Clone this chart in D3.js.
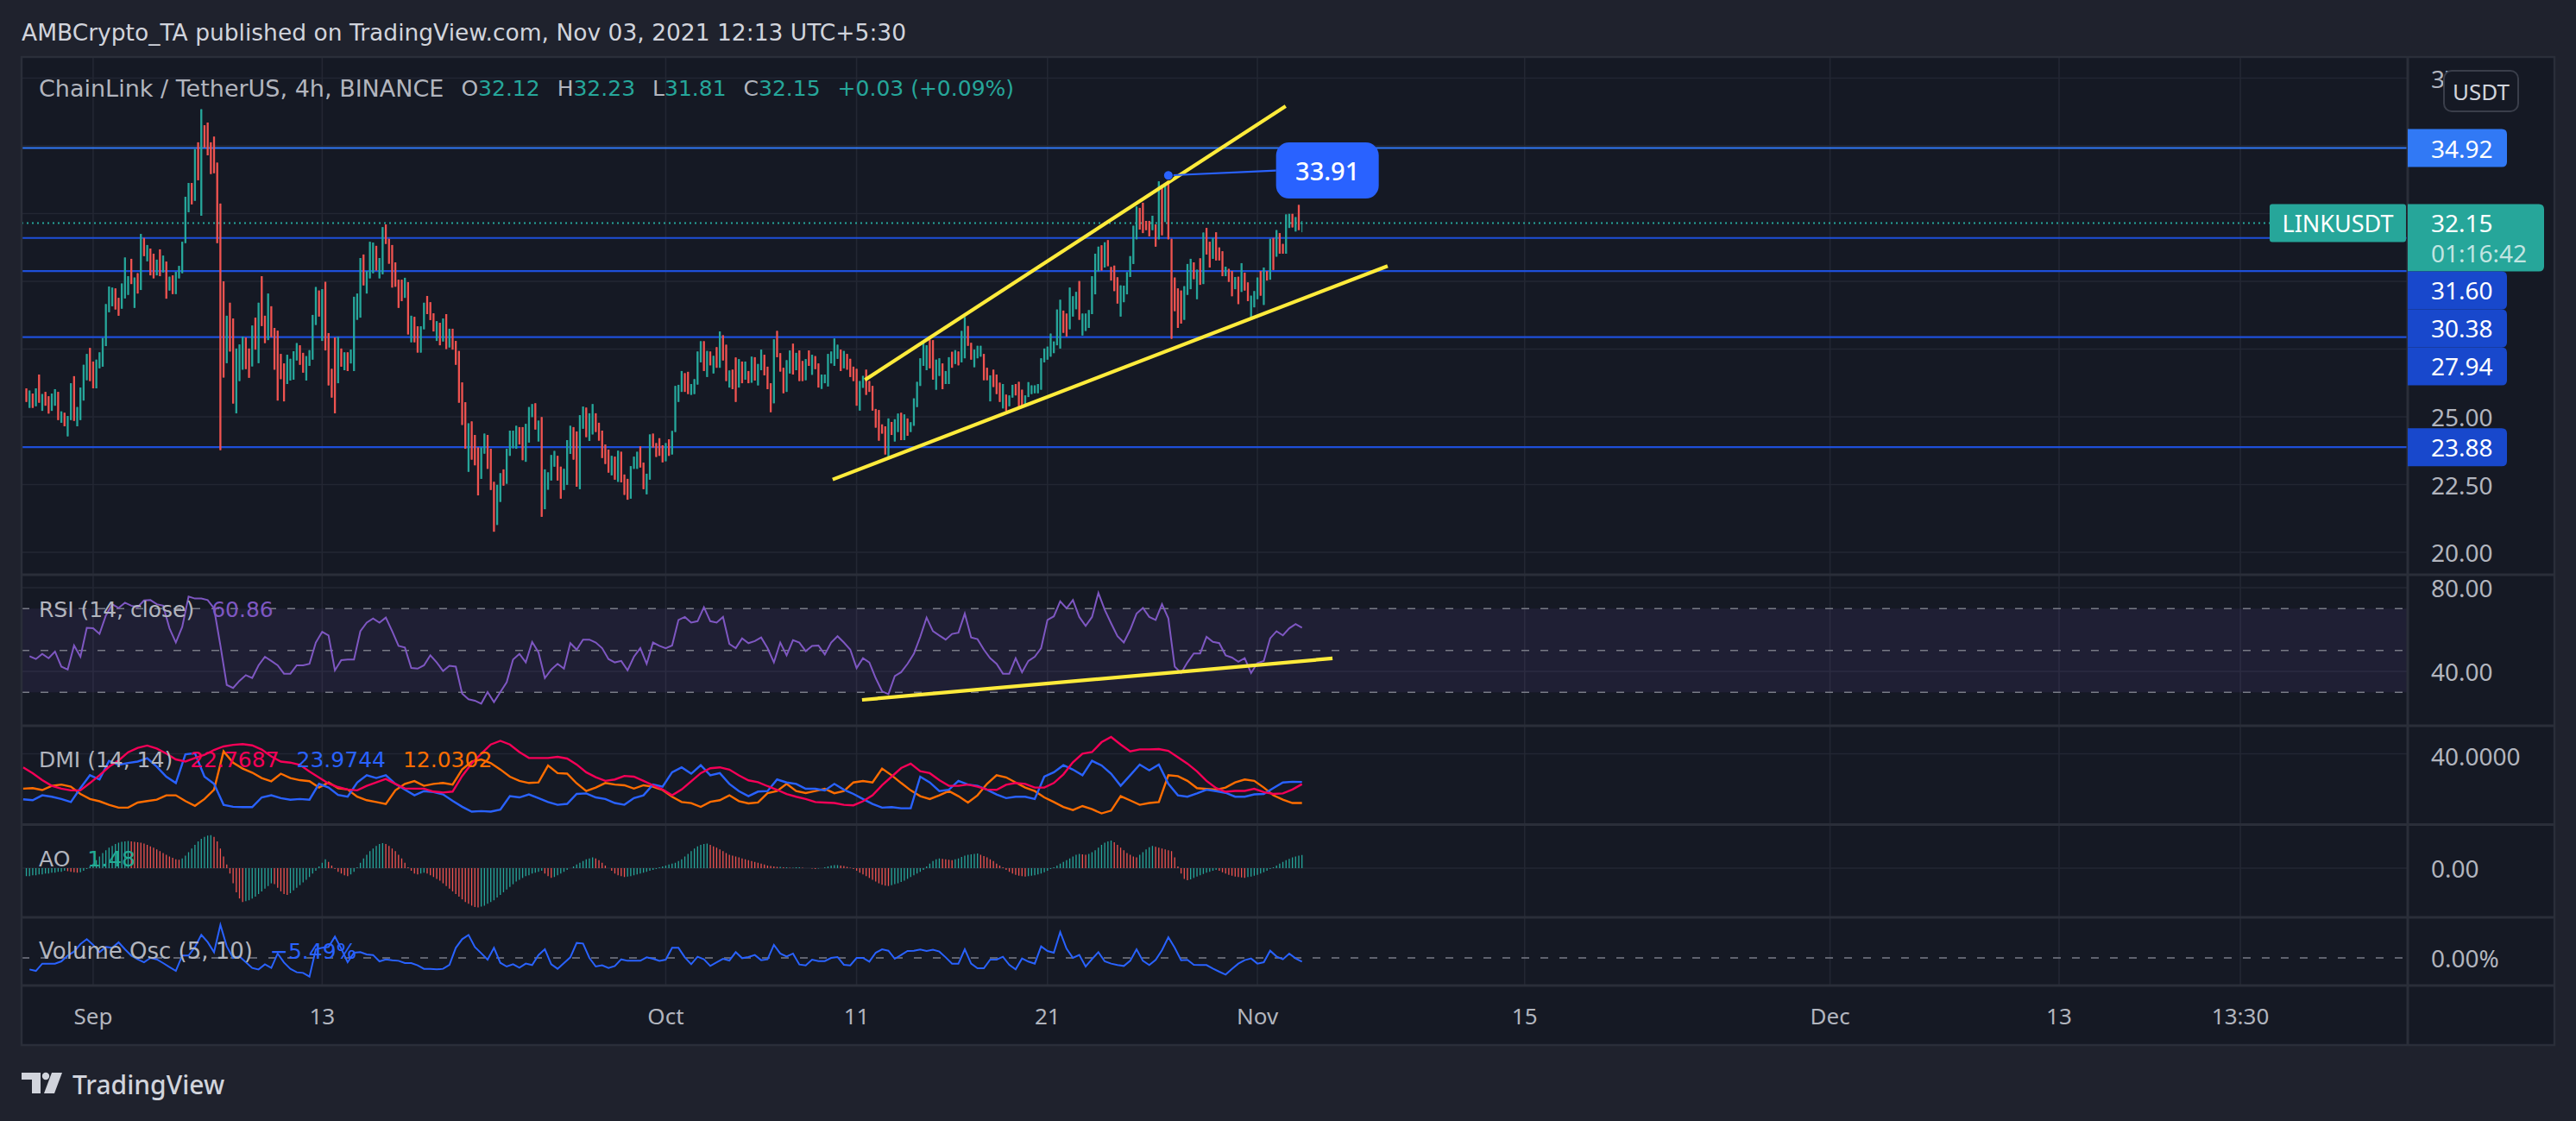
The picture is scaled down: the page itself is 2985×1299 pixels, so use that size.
<!DOCTYPE html>
<html><head><meta charset="utf-8">
<script src="https://cdn.jsdelivr.net/npm/d3@7"></script>
<style>html,body{margin:0;padding:0;background:#1f222d;}svg{display:block;}</style>
</head><body>
<svg id="chart" width="2985" height="1299"></svg>
<script>
// ---------------- DATA ----------------
// bar index 0 = Sep 1 01:30 (4h bars, UTC+5:30); first candle is bar -21
const firstBar = -21;
const candles = [
[26.05,26.05,25.55,25.55],[25.33,25.97,25.33,25.97],[25.86,25.86,25.33,25.33],[25.39,26.05,25.39,26.05],[26.56,26.56,25.52,25.52],
[25.22,25.84,25.22,25.84],[25.92,25.92,25.41,25.41],[25.76,25.76,25.12,25.12],[25.22,25.86,25.22,25.86],[25.41,26.02,25.41,26.02],
[25.92,25.92,24.88,24.88],[24.78,25.20,24.78,25.20],[25.15,25.15,24.65,24.65],[24.28,25.03,24.28,25.03],[24.88,26.24,24.88,26.24],
[26.50,26.50,24.85,24.85],[24.65,25.36,24.65,25.36],[24.88,26.08,24.88,26.08],[25.60,26.92,25.60,26.92],[26.35,27.32,26.35,27.32],
[27.54,27.54,26.32,26.32],[27.04,27.04,26.05,26.05],[26.05,27.11,26.05,27.11],[26.79,27.38,26.79,27.38],[26.85,27.91,26.85,27.91],
[27.61,29.16,27.61,29.16],[28.86,29.81,28.86,29.81],[29.08,29.77,29.08,29.77],[29.74,29.74,28.96,28.96],[29.39,29.39,28.73,28.73],
[28.99,29.92,28.99,29.92],[29.37,30.88,29.37,30.88],[29.50,30.19,29.50,30.19],[30.83,30.83,29.90,29.90],[29.02,30.14,29.02,30.14],
[30.30,30.30,29.55,29.55],[29.68,31.75,29.68,31.75],[31.60,31.60,30.93,30.93],[30.74,31.34,30.74,31.34],[31.21,31.21,30.22,30.22],
[31.02,31.02,30.11,30.11],[30.22,30.80,30.22,30.80],[31.18,31.18,30.19,30.19],[30.33,30.95,30.33,30.95],[30.73,30.73,29.36,29.36],
[29.66,30.17,29.66,30.17],[30.22,30.22,29.53,29.53],[29.53,30.35,29.53,30.35],[30.11,30.57,30.11,30.57],[30.30,31.46,30.30,31.46],
[31.41,33.12,31.41,33.12],[32.55,33.63,32.55,33.63],[33.63,33.63,32.84,32.84],[32.97,34.88,32.97,34.88],[35.13,35.13,33.73,33.73],
[32.42,36.35,32.42,36.35],[35.76,35.76,34.94,34.94],[35.86,35.86,34.65,34.65],[35.13,35.13,33.96,33.96],[35.34,35.34,33.99,33.99],
[34.38,34.38,31.41,31.41],[32.87,32.87,23.77,23.77],[30.00,30.00,26.45,26.45],[26.98,28.73,26.98,28.73],[29.21,29.21,27.41,27.41],
[28.63,28.63,25.49,25.49],[25.13,27.52,25.13,27.52],[26.32,27.67,26.32,27.67],[26.74,27.96,26.74,27.96],[27.93,27.93,26.76,26.76],
[27.52,27.52,26.44,26.44],[26.86,28.37,26.86,28.37],[28.66,28.66,27.48,27.48],[26.98,29.21,26.98,29.21],[30.19,30.19,28.35,28.35],
[28.73,28.73,27.72,27.72],[27.83,29.55,27.83,29.55],[29.08,29.08,27.94,27.94],[28.28,28.28,26.74,26.74],[28.18,28.18,25.60,25.60],
[27.32,27.32,26.39,26.39],[26.97,26.97,25.57,25.57],[26.21,27.29,26.21,27.29],[26.34,27.14,26.34,27.14],[26.37,27.42,26.37,27.42],
[27.08,27.72,27.08,27.72],[27.64,27.64,26.92,26.92],[27.36,27.36,26.63,26.63],[26.34,27.24,26.34,27.24],[26.88,27.46,26.88,27.46],
[27.11,28.76,27.11,28.76],[28.39,29.79,28.39,29.79],[29.66,29.66,28.70,28.70],[27.80,29.71,27.80,29.71],[29.98,29.98,27.45,27.45],
[28.09,28.09,26.16,26.16],[26.77,26.77,25.71,25.71],[27.93,27.93,25.13,25.13],[26.24,27.95,26.24,27.95],[27.52,27.52,26.85,26.85],
[26.72,27.38,26.72,27.38],[27.38,27.38,26.69,26.69],[26.97,27.48,26.97,27.48],[26.69,29.43,26.69,29.43],[28.58,29.55,28.58,29.55],
[28.66,30.86,28.66,30.86],[30.99,30.99,29.85,29.85],[29.55,30.38,29.55,30.38],[30.11,31.46,30.11,31.46],[30.30,31.43,30.30,31.43],
[31.31,31.31,30.40,30.40],[30.11,30.86,30.11,30.86],[30.26,32.00,30.26,32.00],[32.10,32.10,31.38,31.38],[31.57,31.57,30.65,30.65],
[31.34,31.34,29.77,29.77],[30.70,30.70,29.80,29.80],[30.06,30.06,29.02,29.02],[30.06,30.06,29.27,29.27],[29.39,30.13,29.39,30.13],
[29.97,29.97,28.04,28.04],[27.75,28.73,27.75,28.73],[28.69,28.69,27.75,27.75],[28.34,28.34,27.37,27.37],[27.37,28.34,27.37,28.34],
[28.23,29.21,28.23,29.21],[29.46,29.46,28.79,28.79],[29.23,29.23,28.57,28.57],[28.82,28.82,28.15,28.15],[27.80,28.53,27.80,28.53],
[28.47,28.47,27.64,27.64],[27.78,28.63,27.78,28.63],[28.79,28.79,27.50,27.50],[27.56,28.25,27.56,28.25],[28.25,28.25,27.48,27.48],
[27.80,27.80,26.92,26.92],[27.43,27.43,25.52,25.52],[26.27,26.27,24.70,24.70],[25.54,25.54,23.82,23.82],[22.97,24.76,22.97,24.76],
[24.83,24.83,23.42,23.42],[24.33,24.33,23.21,23.21],[23.87,23.87,22.10,22.10],[22.71,23.87,22.71,23.87],[23.64,24.38,23.64,24.38],
[24.33,24.33,23.08,23.08],[23.82,23.82,22.30,22.30],[22.60,22.60,20.76,20.76],[21.01,22.49,21.01,22.49],[21.86,22.92,21.86,22.92],
[23.06,23.06,22.46,22.46],[22.53,23.82,22.53,23.82],[23.56,24.49,23.56,24.49],[23.84,24.49,23.84,24.49],[23.82,24.67,23.82,24.67],
[24.62,24.62,23.98,23.98],[24.62,24.62,23.40,23.40],[23.34,24.74,23.34,24.74],[24.05,25.36,24.05,25.36],[24.99,25.47,24.99,25.47],
[25.50,25.50,24.53,24.53],[24.09,24.86,24.09,24.86],[24.99,24.99,21.31,21.31],[21.59,23.06,21.59,23.06],[22.31,22.95,22.31,22.95],
[22.65,23.59,22.65,23.59],[23.16,23.74,23.16,23.74],[23.56,23.56,22.65,22.65],[23.16,23.16,21.98,21.98],[22.30,23.08,22.30,23.08],
[22.49,24.14,22.49,24.14],[23.63,24.67,23.63,24.67],[24.62,24.62,23.42,23.42],[24.46,24.46,22.42,22.42],[22.33,25.06,22.33,25.06],
[24.56,25.38,24.56,25.38],[25.34,25.34,24.25,24.25],[24.11,25.13,24.11,25.13],[24.35,25.47,24.35,25.47],[25.13,25.13,24.44,24.44],
[24.78,24.78,24.12,24.12],[24.49,24.49,23.48,23.48],[23.98,23.98,23.26,23.26],[23.79,23.79,22.94,22.94],[22.84,23.56,22.84,23.56],
[23.53,23.53,22.68,22.68],[22.60,23.75,22.60,23.75],[23.71,23.71,22.58,22.58],[22.87,22.87,22.12,22.12],[22.71,22.71,21.94,21.94],
[21.98,23.18,21.98,23.18],[23.08,23.53,23.08,23.53],[23.08,23.71,23.08,23.71],[23.91,23.91,23.13,23.13],[23.31,23.31,22.33,22.33],
[22.14,22.90,22.14,22.90],[22.68,24.35,22.68,24.35],[24.38,24.38,23.87,23.87],[24.03,24.03,23.52,23.52],[24.21,24.21,23.56,23.56],
[23.95,23.95,23.32,23.32],[23.36,24.03,23.36,24.03],[24.17,24.17,23.56,23.56],[23.61,24.48,23.61,24.48],[24.44,26.14,24.44,26.14],
[25.55,26.18,25.55,26.18],[25.92,26.69,25.92,26.69],[26.61,26.61,25.92,25.92],[26.66,26.66,25.84,25.84],[25.81,26.21,25.81,26.21],
[25.84,26.39,25.84,26.39],[26.19,27.41,26.19,27.41],[27.01,27.79,27.01,27.79],[27.79,27.79,26.69,26.69],[26.47,27.43,26.47,27.43],
[27.41,27.41,26.90,26.90],[26.60,27.25,26.60,27.25],[27.57,27.57,26.81,26.81],[26.81,28.15,26.81,28.15],[28.01,28.01,27.08,27.08],
[27.66,27.66,26.32,26.32],[26.08,26.71,26.08,26.71],[26.74,26.74,26.02,26.02],[27.19,27.19,25.55,25.55],[26.08,27.13,26.08,27.13],
[27.04,27.04,26.24,26.24],[26.37,27.04,26.37,27.04],[26.69,26.69,26.24,26.24],[26.26,27.22,26.26,27.22],[27.20,27.20,26.34,26.34],
[26.16,26.95,26.16,26.95],[26.72,27.48,26.72,27.48],[27.29,27.29,26.53,26.53],[26.85,26.85,26.02,26.02],[26.24,26.24,25.17,25.17],
[25.50,27.86,25.50,27.86],[28.17,28.17,27.20,27.20],[27.35,27.35,26.67,26.67],[26.81,26.81,25.87,25.87],[25.92,27.09,25.92,27.09],
[26.60,27.45,26.60,27.45],[27.70,27.70,26.56,26.56],[26.72,27.36,26.72,27.36],[27.45,27.45,26.32,26.32],[27.06,27.06,26.32,26.32],
[26.35,27.13,26.35,27.13],[27.45,27.45,26.88,26.88],[26.55,27.29,26.55,27.29],[27.24,27.24,26.76,26.76],[26.97,26.97,26.08,26.08],
[26.03,26.56,26.03,26.56],[26.24,26.56,26.24,26.56],[26.12,27.32,26.12,27.32],[26.97,27.41,26.97,27.41],[26.88,27.89,26.88,27.89],
[27.14,27.66,27.14,27.66],[27.48,27.48,26.69,26.69],[26.79,27.43,26.79,27.43],[27.32,27.32,26.74,26.74],[27.14,27.14,26.47,26.47],
[26.85,26.85,26.32,26.32],[26.77,26.77,25.41,25.41],[25.23,26.32,25.23,26.32],[26.07,26.51,26.07,26.51],[26.74,26.74,25.81,25.81],
[26.32,26.32,25.92,25.92],[26.14,26.14,25.23,25.23],[25.29,25.29,24.60,24.60],[25.25,25.25,24.12,24.12],[24.72,24.72,24.38,24.38],
[24.65,24.65,23.61,23.61],[23.52,24.94,23.52,24.94],[24.81,24.81,24.33,24.33],[24.09,24.91,24.09,24.91],[24.44,25.12,24.44,25.12],
[25.15,25.15,24.14,24.14],[24.14,25.09,24.14,25.09],[24.94,24.94,24.30,24.30],[24.44,24.80,24.44,24.80],[24.67,25.68,24.67,25.68],
[25.36,26.29,25.36,26.29],[26.14,27.16,26.14,27.16],[26.88,27.73,26.88,27.73],[26.72,27.64,26.72,27.64],[27.85,27.85,26.79,26.79],
[27.83,27.83,26.37,26.37],[26.00,27.11,26.00,27.11],[26.51,27.16,26.51,27.16],[26.97,26.97,26.02,26.02],[26.21,26.69,26.21,26.69],
[26.21,27.20,26.21,27.20],[27.40,27.40,26.81,26.81],[26.95,27.46,26.95,27.46],[27.41,27.41,26.90,26.90],[27.01,28.17,27.01,28.17],
[27.16,28.68,27.16,28.68],[28.35,28.35,27.62,27.62],[27.73,27.73,27.11,27.11],[26.83,27.48,26.83,27.48],[27.16,27.62,27.16,27.62],
[27.22,27.62,27.22,27.62],[27.32,27.32,26.35,26.35],[26.81,26.81,26.35,26.35],[25.57,26.53,25.57,26.53],[26.74,26.74,26.10,26.10],
[26.56,26.56,25.84,25.84],[26.26,26.26,25.55,25.55],[25.31,26.21,25.31,26.21],[25.82,25.82,25.22,25.22],[25.39,25.79,25.39,25.79],
[25.71,26.18,25.71,26.18],[26.21,26.21,25.79,25.79],[26.29,26.29,25.34,25.34],[26.00,26.00,25.36,25.36],[25.41,25.79,25.41,25.79],
[25.73,26.28,25.73,26.28],[25.84,26.16,25.84,26.16],[25.87,26.16,25.87,26.16],[25.87,26.21,25.87,26.21],[26.00,27.16,26.00,27.16],
[27.01,27.52,27.01,27.52],[27.11,27.59,27.11,27.59],[27.22,28.07,27.22,28.07],[27.35,27.78,27.35,27.78],[27.64,28.96,27.64,28.96],
[27.52,29.32,27.52,29.32],[28.92,28.92,28.10,28.10],[28.81,28.81,27.96,27.96],[28.23,29.77,28.23,29.77],[28.70,29.45,28.70,29.45],
[28.97,29.61,28.97,29.61],[30.01,30.01,28.58,28.58],[28.00,28.81,28.00,28.81],[28.17,28.81,28.17,28.81],[28.28,28.94,28.28,28.94],
[28.79,30.19,28.79,30.19],[29.52,31.02,29.52,31.02],[30.37,31.28,30.37,31.28],[31.33,31.33,30.40,30.40],[30.51,31.44,30.51,31.44],
[31.52,31.52,30.56,30.56],[30.53,30.53,30.03,30.03],[30.58,30.58,29.64,29.64],[30.15,30.15,29.18,29.18],[28.70,29.85,28.70,29.85],
[29.23,29.84,29.23,29.84],[29.52,30.34,29.52,30.34],[30.16,30.93,30.16,30.93],[30.64,32.05,30.64,32.05],[31.55,32.76,31.55,32.76],
[32.71,32.71,31.91,31.91],[32.90,32.90,31.78,31.78],[32.23,32.23,31.89,31.89],[32.23,32.23,31.66,31.66],[31.89,32.42,31.89,32.42],
[32.10,32.10,31.28,31.28],[31.55,33.69,31.55,33.69],[33.56,33.56,31.70,31.70],[32.19,33.57,32.19,33.57],[33.91,33.91,31.55,31.55],
[31.57,31.57,27.88,27.88],[30.14,30.14,28.90,28.90],[29.74,29.74,28.28,28.28],[29.66,29.66,28.44,28.44],[28.58,29.82,28.58,29.82],
[29.50,30.64,29.50,30.64],[29.71,30.83,29.71,30.83],[30.70,30.70,30.08,30.08],[29.34,30.43,29.34,30.43],[30.85,30.85,29.87,29.87],
[29.90,31.80,29.90,31.80],[31.97,31.97,30.99,30.99],[31.46,31.46,30.51,30.51],[30.83,31.60,30.83,31.60],[31.81,31.81,30.77,30.77],
[31.25,31.25,30.77,30.77],[31.11,31.11,30.19,30.19],[30.19,30.54,30.19,30.54],[30.46,30.46,29.98,29.98],[30.38,30.38,29.45,29.45],
[29.71,30.16,29.71,30.16],[30.17,30.17,29.16,29.16],[29.61,30.67,29.61,30.67],[30.32,30.32,29.66,29.66],[29.96,29.96,29.27,29.27],
[28.65,29.47,28.65,29.47],[29.04,29.64,29.04,29.64],[29.34,30.14,29.34,30.14],[30.38,30.38,29.47,29.47],[29.13,30.51,29.13,30.51],
[30.38,30.38,30.03,30.03],[30.06,31.57,30.06,31.57],[31.60,31.60,30.42,30.42],[30.91,31.89,30.91,31.89],[31.78,31.78,31.02,31.02],
[31.38,31.38,31.02,31.02],[31.02,32.47,31.02,32.47],[31.97,32.49,31.97,32.49],[32.49,32.49,31.99,31.99],[31.84,32.37,31.84,32.37],
[32.82,32.82,31.89,31.89],[32.12,32.23,31.81,32.15]
];

// RSI(14) sampled every 2 bars starting at bar -20
const rsiStart = -20, rsiStep = 2;
const rsi = [
47.3,45.9,48.4,46.3,49.5,42.3,40.9,52.4,47.0,60.8,60.6,57.9,66.7,72.1,70.3,72.8,71.4,70.7,73.9,74.1,
72.1,71.4,60.6,53.8,61.3,75.8,74.8,74.8,74.1,70.1,52.4,33.5,32.1,35.5,38.2,36.8,42.9,47.0,45.0,42.9,
38.9,38.9,42.9,42.9,43.6,53.8,58.9,57.2,40.5,45.4,45.7,45.7,59.2,63.3,65.3,63.3,65.7,59.2,52.2,51.4,
41.6,41.3,42.9,47.7,44.3,40.2,42.7,42.3,29.4,26.7,26.0,24.6,30.1,25.3,30.1,34.8,45.7,48.4,44.3,54.1,
49.1,36.8,40.9,43.6,41.3,53.5,50.4,55.2,55.2,53.8,51.1,45.9,44.3,45.0,40.5,47.0,51.1,43.6,53.8,52.2,
51.1,52.4,64.6,66.0,63.3,
64.0,70.7,64.0,63.3,66.0,53.1,51.1,55.8,53.5,54.5,56.2,51.1,44.3,53.8,47.7,54.9,53.8,49.7,52.2,52.4,
48.1,53.8,56.8,53.8,50.4,41.6,46.3,44.3,36.8,30.5,29.1,37.8,39.6,43.6,48.4,56.5,65.7,59.2,57.2,55.2,
57.9,58.5,67.6,56.2,55.4,50.4,46.3,43.6,38.9,38.9,46.3,39.6,45.0,47.0,51.1,64.6,66.3,73.5,70.1,74.1,
66.0,61.7,66.0,77.5,69.4,63.0,56.8,53.8,59.9,67.6,70.3,66.0,64.6,72.1,65.3,42.3,39.2,44.3,48.6,48.6,
56.5,54.1,53.5,47.7,46.6,44.6,46.3,39.2,44.0,45.0,55.8,59.2,57.2,60.6,62.6,60.86
];

// DMI(14,14) sampled every 3 bars starting at bar -22
const dmiStart = -22, dmiStep = 3;
const adx = [
32.3,29.0,25.0,21.8,20.2,19.2,19.2,23.4,27.8,32.6,36.2,40.9,43.4,44.7,43.0,40.1,36.8,35.6,37.6,39.4,
42.2,44.2,45.1,45.5,44.8,42.4,38.5,35.6,35.0,33.7,29.9,26.5,23.1,21.1,19.7,19.2,21.8,23.7,25.7,22.9,
20.3,20.2,20.2,18.5,18.0,18.5,27.4,34.5,40.1,45.3,47.4,45.3,41.0,37.6,37.6,37.6,38.3,37.3,33.9,29.5,
26.7,24.6,25.4,27.4,27.0,24.6,22.1,19.7,16.4,19.7,
24.4,29.0,31.8,32.3,31.0,27.7,24.9,23.9,21.6,19.5,17.1,15.6,14.3,12.6,12.3,12.0,11.0,10.7,13.0,16.4,
22.1,27.0,31.9,34.4,30.1,29.0,25.0,21.8,21.8,22.5,21.3,19.7,19.5,22.4,23.4,22.9,20.8,20.8,23.4,28.3,
35.2,40.1,41.0,46.6,49.6,45.3,41.4,42.5,42.5,42.7,41.7,38.0,34.4,30.0,24.6,20.5,18.4,18.9,18.9,20.1,
18.2,17.2,17.5,19.7,22.7687
];
const plusDI = [
14.1,13.6,16.4,15.6,14.3,12.6,20.5,27.8,25.4,36.0,33.8,34.8,35.6,37.5,32.7,27.0,23.4,39.7,40.4,27.0,
22.9,11.0,9.9,9.7,9.7,15.2,16.4,14.8,13.9,14.3,13.9,22.9,20.8,16.6,15.6,23.7,27.8,26.2,27.8,22.9,
19.6,16.4,18.8,18.2,16.9,13.2,9.9,7.1,7.4,7.1,8.2,15.9,15.2,16.9,14.8,12.6,11.0,11.5,17.2,17.5,
15.2,14.3,12.0,11.0,14.8,16.4,22.5,21.3,29.5,32.3,
28.7,33.5,27.8,29.0,22.9,18.8,15.9,18.5,18.8,25.4,23.7,22.9,20.1,20.1,19.2,22.9,19.6,17.2,14.3,11.5,
9.4,9.7,9.0,9.0,27.0,23.7,18.8,19.6,24.6,22.5,21.8,19.6,16.9,14.8,15.6,15.6,14.3,27.0,29.5,33.5,
31.0,27.8,36.0,33.4,28.7,21.8,27.8,33.9,30.6,33.9,22.9,16.4,15.6,17.5,19.6,18.8,17.8,15.6,15.6,16.9,
17.2,20.5,23.7,24.1,23.9744
];
const minusDI = [
20.2,20.5,19.4,21.8,22.5,21.3,17.2,14.3,13.0,11.0,9.4,9.4,12.3,13.1,13.9,16.4,16.4,13.1,10.4,14.3,
19.6,41.4,34.9,31.6,29.3,26.2,24.4,28.7,26.2,25.0,24.4,20.8,23.7,20.5,19.7,15.6,13.6,12.6,11.5,19.2,
22.9,24.5,21.8,22.9,23.4,22.5,31.1,35.6,36.8,34.7,31.1,27.0,24.6,23.4,23.7,33.3,29.0,28.7,23.2,18.8,
20.8,23.4,22.5,22.1,20.2,22.1,21.3,19.4,15.6,12.6,
12.0,9.8,12.7,13.6,16.4,13.1,11.8,12.3,17.6,18.8,22.9,18.8,17.7,18.8,20.1,17.6,18.8,23.7,24.5,23.7,
31.6,27.8,23.4,19.2,15.9,14.3,16.4,18.8,15.9,12.3,16.4,22.9,27.8,26.6,23.7,20.8,18.8,15.2,12.6,9.8,
8.0,10.3,8.5,6.1,7.7,15.9,13.5,11.0,12.0,12.6,27.8,27.3,24.6,20.5,20.0,19.6,20.8,23.7,25.4,24.6,
20.8,16.4,13.9,12.0,12.0302
];

// Awesome Oscillator, one value per bar from bar -21
const ao = [
-0.9,-0.9,-0.8,-0.8,-0.7,-0.7,-0.6,-0.6,-0.5,-0.5,-0.4,-0.4,-0.3,
-0.35,-0.4,-0.45,-0.5,-0.45,
-0.3,-0.1,0.2,0.5,0.9,
1.3,1.7,2.0,2.3,2.5,2.7,2.85,2.95,3.0,3.05,
3.0,2.95,2.9,2.85,2.75,2.6,2.45,2.3,2.1,1.9,1.7,1.5,1.3,1.15,1.0,0.95,
1.1,1.4,1.8,2.2,2.6,3.0,3.3,3.5,3.65,3.7,
3.5,3.0,2.2,1.3,0.4,
-0.6,-1.7,-2.7,-3.4,-3.8,
-3.7,-3.6,-3.4,-3.2,-2.9,-2.6,-2.3,-2.0,-1.7,
-1.8,-2.2,-2.6,-2.9,-3.0,
-2.8,-2.5,-2.2,-1.9,-1.6,-1.3,-1.0,-0.6,-0.3,
0.2,0.6,1.0,
0.7,0.3,-0.1,
-0.4,-0.6,-0.8,-0.9,-0.7,-0.4,
0.1,0.6,1.1,1.5,1.9,2.2,2.5,2.7,2.8,
2.7,2.5,2.2,1.9,1.5,1.1,0.6,0.1,
-0.3,-0.6,-0.7,-0.6,-0.5,
-0.6,-0.8,-1.0,-1.2,-1.4,-1.7,
-2.0,-2.3,-2.6,-2.9,-3.2,-3.5,-3.8,-4.0,-4.2,-4.35,-4.4,
-4.3,-4.2,-4.0,-3.8,-3.6,-3.3,-3.0,-2.7,-2.4,-2.1,-1.8,-1.5,
-1.3,-1.1,-0.9,-0.8,-0.6,-0.5,-0.4,-0.3,
-0.6,-0.9,-1.1,-1.0,
-0.8,-0.6,-0.4,-0.2,0.0,
0.2,0.4,0.6,0.8,1.0,1.1,1.2,
1.1,0.9,0.6,0.3,0.0,-0.3,
-0.6,-0.8,-0.9,-1.0,-0.95,-0.9,-0.8,
-0.7,-0.6,-0.5,-0.4,-0.3,-0.2,-0.1,
0.1,0.2,0.3,0.4,0.5,0.6,0.8,1.0,1.3,1.6,1.9,2.2,2.45,2.6,2.7,2.75,
2.6,2.45,2.3,2.1,1.9,1.7,1.5,
1.4,1.3,1.2,1.1,1.0,0.9,0.8,0.7,0.6,0.5,0.4,0.3,
0.25,0.2,0.15,0.15,0.1,0.1,0.05,0.05,0.1,0.1,0.05,0.0,0.0,-0.05,-0.1,-0.05,0.0,0.1,0.2,0.3,0.35,0.35,0.3,0.25,0.15,0.05,
-0.1,-0.3,-0.5,-0.7,-0.9,-1.1,-1.3,-1.5,-1.7,-1.85,-1.95,-2.0,
-1.9,-1.8,-1.7,-1.55,-1.4,-1.2,-1.0,-0.8,-0.6,-0.4,-0.2,
0.2,0.5,0.8,1.0,1.1,
1.05,1.0,0.95,0.9,
1.0,1.1,1.25,1.4,1.5,1.55,1.6,1.65,
1.5,1.35,1.2,1.0,0.8,0.5,0.3,0.1,
-0.2,-0.4,-0.6,-0.75,-0.85,-0.9,-0.95,
-0.9,-0.85,-0.8,-0.7,-0.6,-0.45,-0.3,-0.1,
0.1,0.3,0.5,0.7,0.9,1.1,1.3,1.5,
1.6,1.55,1.5,1.6,
1.8,2.0,2.3,2.6,2.85,3.0,3.1,
2.9,2.6,2.3,2.0,1.7,1.5,1.3,1.2,
1.5,1.8,2.1,2.35,2.5,
2.4,2.3,2.2,2.1,2.0,1.9,1.2,0.2,
-0.6,-1.2,-1.35,
-1.25,-1.1,-0.95,-0.8,-0.65,-0.5,-0.4,-0.3,
-0.2,-0.3,-0.45,-0.6,-0.75,-0.85,-0.95,-1.0,-1.05,-1.1,
-1.0,-0.95,-0.85,-0.75,-0.6,-0.45,-0.3,-0.1,
0.1,0.3,0.5,0.7,0.9,1.05,1.2,1.3,1.4,1.48
];

// Volume Oscillator (5,10) in %, sampled every 2 bars starting at bar -20
const volStart = -20, volStep = 2;
const volOsc = [
-16.7,-18.8,-8.3,-8.3,-8.3,-5.0,3.3,9.2,20.0,27.1,18.8,8.3,15.8,14.6,22.5,12.5,3.3,-2.1,-6.3,0.0,
-2.1,-7.5,-13.3,-18.8,3.3,3.3,15.8,33.3,22.9,8.3,47.9,16.7,0.0,2.1,-6.3,-14.6,-16.7,-9.2,-14.6,6.3,
-6.7,-15.8,-20.8,-21.7,-27.1,12.5,14.6,15.8,30.8,13.3,-6.3,7.5,8.3,5.0,4.2,-5.0,-2.1,-3.3,-4.2,-7.5,
-7.5,-10.8,-15.8,-15.8,-16.7,-15.8,-10.0,14.6,27.1,33.3,15.8,6.7,-2.5,14.6,-7.1,-12.5,-9.2,-14.2,-8.3,-10.4,
4.2,12.5,-9.2,-15.8,-7.5,0.8,21.7,20.8,0.0,-12.5,-10.8,-14.6,-11.7,-2.1,-4.2,-4.2,-4.2,0.8,-1.3,-4.2,
-2.5,14.6,14.6,0.8,
-9.2,1.7,-2.1,-11.7,-6.3,-1.3,-3.8,8.3,-0.4,1.3,4.2,-3.3,-2.1,18.8,6.3,2.1,6.3,-9.6,-10.8,-2.5,
-4.6,-4.6,0.0,1.3,-10.0,-10.8,0.0,0.0,-5.4,7.5,12.5,10.4,-1.3,4.2,10.0,10.4,12.1,10.0,11.7,9.2,
0.8,-8.3,-8.3,12.5,-8.3,-15.0,-15.0,-2.5,-2.5,1.7,-10.0,-16.7,-0.8,-5.4,-8.3,16.7,10.0,7.5,37.5,13.3,
0.0,4.2,-12.5,-1.7,8.3,-5.0,-8.3,-10.4,-11.7,-4.2,12.5,-4.2,-10.4,-2.9,11.3,30.0,14.6,-3.3,-2.9,-10.0,
-10.4,-10.4,-15.4,-20.0,-24.2,-15.8,-8.3,-3.3,-0.8,-8.3,-6.3,10.4,2.1,-2.1,6.3,-0.8,-5.49
];

// Axis ticks
const timeLabels = ["Sep","13","Oct","11","21","Nov","15","Dec","13","13:30"];
const timeBars   = [0, 72, 180, 240, 300, 366, 450, 546, 618, 675];
const priceTicks = [20, 22.5, 25, 27.5, 30, 32.5, 35, 37.5];
// horizontal levels drawn on the chart
const levels = [34.92, 31.60, 30.38, 27.94, 23.88];
const lastPrice = 32.15, countdown = "01:16:42";
// drawings: [bar, value]
const upperChannel = [[243.1, 26.40], [374.4, 36.43]];
const lowerChannel = [[233.0, 22.71], [406.4, 30.54]];
const rsiTrend = [[241.7, 26.4], [389.6, 46.2]];
const callout = {bar: 338, price: 33.91, labelBar: 388, labelPrice: 34.09, text: "33.91"};

// ---------------- LAYOUT ----------------
const W = 2985, H = 1299;
const L = 25, R = 2960, T = 66, B = 1211, AX = 2790;
const P = {main:[66,666], rsi:[666,841], dmi:[841,955.5], ao:[955.5,1063], vol:[1063,1142], time:[1142,1211]};
const FONT = "'Noto Sans', 'Open Sans', sans-serif";
const LFONT = "'DejaVu Sans', 'Noto Sans', sans-serif";
const UP = "#26a69a", DOWN = "#ef5350";

const x  = d3.scaleLinear().domain([-22.5, 727.6]).range([L, AX]);
const yP = d3.scaleLinear().domain([20, 37.5]).range([640, 90.5]);
const yR = d3.scaleLinear().domain([40, 80]).range([778, 681]);
const yD = d3.scaleLinear().domain([0, 40]).range([955, 873.5]);
const yA = d3.scaleLinear().domain([-5, 5]).range([1057.7, 954.3]);
const yV = d3.scaleLinear().domain([-30, 50]).range([1134, 1070]);

const svg = d3.select("#chart");
const defs = svg.append("defs");
function clip(id, y0, y1) {
  defs.append("clipPath").attr("id", id).append("rect")
    .attr("x", L).attr("y", y0).attr("width", AX - L).attr("height", y1 - y0);
  return "url(#" + id + ")";
}
const clipMain = clip("cMain", P.main[0], P.main[1]);
const clipRsi = clip("cRsi", P.rsi[0], P.rsi[1]);
const clipDmi = clip("cDmi", P.dmi[0], P.dmi[1]);
const clipAo = clip("cAo", P.ao[0], P.ao[1]);
const clipVol = clip("cVol", P.vol[0], P.vol[1]);

// backgrounds
svg.append("rect").attr("width", W).attr("height", H).attr("fill", "#1f222d");
svg.append("rect").attr("x", L).attr("y", T).attr("width", R - L).attr("height", B - T).attr("fill", "#151924");

// grid
const grid = svg.append("g").attr("stroke", "#232733").attr("stroke-width", 1.6);
timeBars.forEach(b => grid.append("line").attr("x1", x(b)).attr("x2", x(b)).attr("y1", T).attr("y2", P.time[0]));
priceTicks.forEach(v => grid.append("line").attr("x1", L).attr("x2", AX).attr("y1", yP(v)).attr("y2", yP(v)));
[80, 40].forEach(v => grid.append("line").attr("x1", L).attr("x2", AX).attr("y1", yR(v)).attr("y2", yR(v)));
grid.append("line").attr("x1", L).attr("x2", AX).attr("y1", yD(40)).attr("y2", yD(40));
grid.append("line").attr("x1", L).attr("x2", AX).attr("y1", yA(0)).attr("y2", yA(0));

// RSI band + dashed levels
svg.append("rect").attr("x", L).attr("width", AX - L).attr("y", yR(70)).attr("height", yR(30) - yR(70))
  .attr("fill", "rgba(126,87,194,0.10)");
[70, 50, 30].forEach(v => svg.append("line").attr("x1", L).attr("x2", AX).attr("y1", yR(v)).attr("y2", yR(v))
  .attr("stroke", "#787b86").attr("stroke-width", 1.6).attr("stroke-dasharray", "9,13"));
svg.append("line").attr("x1", L).attr("x2", AX).attr("y1", yV(0)).attr("y2", yV(0))
  .attr("stroke", "#787b86").attr("stroke-width", 1.6).attr("stroke-dasharray", "9,13");

// level lines
levels.forEach((v, i) => svg.append("line").attr("x1", L).attr("x2", AX).attr("y1", yP(v)).attr("y2", yP(v))
  .attr("stroke", i === 0 ? "#3179f5" : "#1e4fd9").attr("stroke-width", 2.2));
// last price dotted line
svg.append("line").attr("x1", L).attr("x2", AX).attr("y1", yP(lastPrice)).attr("y2", yP(lastPrice))
  .attr("stroke", UP).attr("stroke-width", 2).attr("stroke-dasharray", "2,4");

// candles
const gC = svg.append("g").attr("clip-path", clipMain);
candles.forEach((c, i) => {
  const [o, h, l, cl] = c;
  const xi = x(firstBar + i);
  const col = cl >= o ? UP : DOWN;
  gC.append("line").attr("x1", xi).attr("x2", xi).attr("y1", yP(h)).attr("y2", yP(l))
    .attr("stroke", col).attr("stroke-width", 1);
  const top = yP(Math.max(o, cl)), bot = yP(Math.min(o, cl));
  gC.append("rect").attr("x", xi - 1.15).attr("width", 2.3).attr("y", top).attr("height", Math.max(1, bot - top))
    .attr("fill", col);
});

// channel drawings
const gD = svg.append("g").attr("clip-path", clipMain);
[upperChannel, lowerChannel].forEach(seg => gD.append("line")
  .attr("x1", x(seg[0][0])).attr("y1", yP(seg[0][1])).attr("x2", x(seg[1][0])).attr("y2", yP(seg[1][1]))
  .attr("stroke", "#ffeb3b").attr("stroke-width", 4.2).attr("stroke-linecap", "square"));

// callout 33.91
{
  const cx = x(callout.bar), cy = yP(callout.price);
  const lx = x(callout.labelBar), ly = yP(callout.labelPrice);
  const bw = 119, bh = 65;
  gD.append("line").attr("x1", cx).attr("y1", cy).attr("x2", lx - bw / 2).attr("y2", ly)
    .attr("stroke", "#2962ff").attr("stroke-width", 2.2);
  gD.append("circle").attr("cx", cx).attr("cy", cy).attr("r", 5.5).attr("fill", "#2962ff")
    .attr("stroke", "#131722").attr("stroke-width", 1);
  gD.append("rect").attr("x", lx - bw / 2).attr("y", ly - bh / 2).attr("width", bw).attr("height", bh)
    .attr("rx", 15).attr("fill", "#2962ff");
  gD.append("text").attr("x", lx).attr("y", ly).attr("text-anchor", "middle").attr("dominant-baseline", "central")
    .attr("font-family", FONT).attr("font-size", 29).attr("font-weight", 500).attr("fill", "#ffffff").text(callout.text);
}

// RSI
const gR = svg.append("g").attr("clip-path", clipRsi);
gR.append("path").datum(rsi).attr("fill", "none").attr("stroke", "#7e57c2").attr("stroke-width", 2)
  .attr("d", d3.line().x((d, i) => x(rsiStart + i * rsiStep)).y(d => yR(d)));
gR.append("line").attr("x1", x(rsiTrend[0][0])).attr("y1", yR(rsiTrend[0][1]))
  .attr("x2", x(rsiTrend[1][0])).attr("y2", yR(rsiTrend[1][1]))
  .attr("stroke", "#ffeb3b").attr("stroke-width", 4.2);

// DMI
const gDm = svg.append("g").attr("clip-path", clipDmi);
[[minusDI, "#ff6d00"], [plusDI, "#2962ff"], [adx, "#f50057"]].forEach(([arr, col]) =>
  gDm.append("path").datum(arr).attr("fill", "none").attr("stroke", col).attr("stroke-width", 2.4)
    .attr("d", d3.line().x((d, i) => x(dmiStart + i * dmiStep)).y(d => yD(d))));

// AO
const gA = svg.append("g").attr("clip-path", clipAo);
ao.forEach((v, i) => {
  const col = (i === 0 || v >= ao[i - 1]) ? "#26a69a" : "#ef5350";
  const xi = x(firstBar + i);
  gA.append("line").attr("x1", xi).attr("x2", xi).attr("y1", yA(0)).attr("y2", yA(v))
    .attr("stroke", col).attr("stroke-width", 1.3);
});

// Volume oscillator
const gV = svg.append("g").attr("clip-path", clipVol);
gV.append("path").datum(volOsc).attr("fill", "none").attr("stroke", "#2962ff").attr("stroke-width", 2)
  .attr("d", d3.line().x((d, i) => x(volStart + i * volStep)).y(d => yV(d)));

// separators & frame
const sep = svg.append("g").attr("stroke", "#2a2e39").attr("stroke-width", 3);
[P.rsi[0], P.dmi[0], P.ao[0], P.vol[0], P.time[0]].forEach(y => sep.append("line").attr("x1", L).attr("x2", R).attr("y1", y).attr("y2", y));
sep.append("line").attr("x1", AX).attr("x2", AX).attr("y1", T).attr("y2", B);
svg.append("rect").attr("x", L).attr("y", T).attr("width", R - L).attr("height", B - T)
  .attr("fill", "none").attr("stroke", "#2a2e39").attr("stroke-width", 2.5);

// ---- right axis ----
const axG = svg.append("g").attr("font-family", FONT).attr("font-size", 28);
const fmt2 = d3.format(".2f");

// price labels with overlap stacking
function rPath(x0, y0, w, h, r) {
  return `M${x0},${y0}H${x0 + w - r}Q${x0 + w},${y0} ${x0 + w},${y0 + r}V${y0 + h - r}Q${x0 + w},${y0 + h} ${x0 + w - r},${y0 + h}H${x0}Z`;
}
const labels = levels.map((v, i) => ({v, fill: i === 0 ? "#3179f5" : "#1848cc", lines: [fmt2(v)], w: 115, h: 44}));
labels.push({v: lastPrice, fill: UP, lines: [fmt2(lastPrice), countdown], w: 158, h: 78});
labels.forEach(d => d.top = yP(d.v) - 22);
labels.sort((a, b) => a.top - b.top);
let prevBottom = -1e9;
labels.forEach(d => { d.top = Math.max(d.top, prevBottom); prevBottom = d.top + d.h; });

// tick labels (hidden where a price label box covers them, as on the original)
priceTicks.forEach(v => {
  const yy = yP(v);
  const covered = labels.some(d => yy > d.top - 12 && yy < d.top + d.h + 12);
  if (!covered) axG.append("text").attr("x", 2817).attr("y", yy).attr("dominant-baseline", "central")
    .attr("fill", "#b2b5be").text(fmt2(v));
});
[80, 40].forEach(v => axG.append("text").attr("x", 2817).attr("y", yR(v)).attr("dominant-baseline", "central")
  .attr("fill", "#b2b5be").text(fmt2(v)));
axG.append("text").attr("x", 2817).attr("y", yD(40) + 2).attr("dominant-baseline", "central").attr("fill", "#b2b5be").text(d3.format(".4f")(40));
axG.append("text").attr("x", 2817).attr("y", yA(0)).attr("dominant-baseline", "central").attr("fill", "#b2b5be").text(fmt2(0));
axG.append("text").attr("x", 2817).attr("y", yV(0)).attr("dominant-baseline", "central").attr("fill", "#b2b5be").text(fmt2(0) + "%");

// USDT currency box
axG.append("rect").attr("x", 2832).attr("y", 82).attr("width", 86).attr("height", 47).attr("rx", 9)
  .attr("fill", "#151924").attr("stroke", "#3a3e4a").attr("stroke-width", 2);
axG.append("text").attr("x", 2875).attr("y", 106).attr("text-anchor", "middle").attr("dominant-baseline", "central")
  .attr("font-size", 26).attr("fill", "#d1d4dc").text("USDT");

labels.forEach(d => {
  axG.append("path").attr("d", rPath(AX, d.top, d.w, d.h, 6)).attr("fill", d.fill);
  d.lines.forEach((s, j) => axG.append("text").attr("x", 2817).attr("y", d.top + 22 + j * 35)
    .attr("dominant-baseline", "central").attr("fill", j === 0 ? "#ffffff" : "rgba(255,255,255,0.72)").text(s));
});
// symbol label
svg.append("rect").attr("x", 2630).attr("y", yP(lastPrice) - 22).attr("width", 158).attr("height", 44).attr("rx", 3).attr("fill", UP);
svg.append("text").attr("x", 2709).attr("y", yP(lastPrice)).attr("text-anchor", "middle").attr("dominant-baseline", "central")
  .attr("font-family", FONT).attr("font-size", 27).attr("fill", "#ffffff").text("LINKUSDT");

// time axis
timeLabels.forEach((s, i) => svg.append("text").attr("x", x(timeBars[i])).attr("y", 1177)
  .attr("text-anchor", "middle").attr("dominant-baseline", "central")
  .attr("font-family", FONT).attr("font-size", 26).attr("fill", "#b2b5be").text(s));

// ---- legends ----
function legend(xp, y, parts, size) {
  const t = svg.append("text").attr("x", xp).attr("y", y).attr("dominant-baseline", "central")
    .attr("font-family", LFONT).attr("font-size", size || 25);
  parts.forEach(([s, c, dx, fs]) => {
    const sp = t.append("tspan").attr("fill", c).attr("dx", dx || 0).text(s);
    if (fs) sp.attr("font-size", fs);
  });
}
legend(25, 37, [["AMBCrypto_TA published on TradingView.com, Nov 03, 2021 12:13 UTC+5:30", "#d1d4dc"]], 26.5);
legend(45, 102, [["ChainLink / TetherUS, 4h, BINANCE", "#b2b5be", 0, 27], ["O", "#b2b5be", 20], ["32.12", UP],
  ["H", "#b2b5be", 20], ["32.23", UP], ["L", "#b2b5be", 20], ["31.81", UP], ["C", "#b2b5be", 20], ["32.15", UP],
  ["+0.03 (+0.09%)", UP, 20]], 25);
legend(45, 706, [["RSI (14, close)", "#b2b5be"], ["60.86", "#7e57c2", 20]]);
legend(45, 880, [["DMI (14, 14)", "#b2b5be"], ["22.7687", "#f50057", 20], ["23.9744", "#2962ff", 20], ["12.0302", "#ff6d00", 20]]);
legend(45, 995, [["AO", "#b2b5be"], ["1.48", "#22ab94", 20]]);
legend(45, 1102, [["Volume Osc (5, 10)", "#b2b5be", 0, 26], ["\u22125.49%", "#2962ff", 20]]);

// ---- footer logo ----
const lg = svg.append("g").attr("fill", "#d1d4dc");
lg.append("path").attr("d", "M25,1243H47V1267H37V1251H25Z");
lg.append("circle").attr("cx", 53).attr("cy", 1247).attr("r", 4.2);
lg.append("path").attr("d", "M60,1243H72L63,1267H51Z");
svg.append("text").attr("x", 84).attr("y", 1256).attr("dominant-baseline", "central")
  .attr("font-family", FONT).attr("font-size", 30).attr("font-weight", 500).attr("fill", "#d1d4dc").text("TradingView");
</script>
</body></html>
